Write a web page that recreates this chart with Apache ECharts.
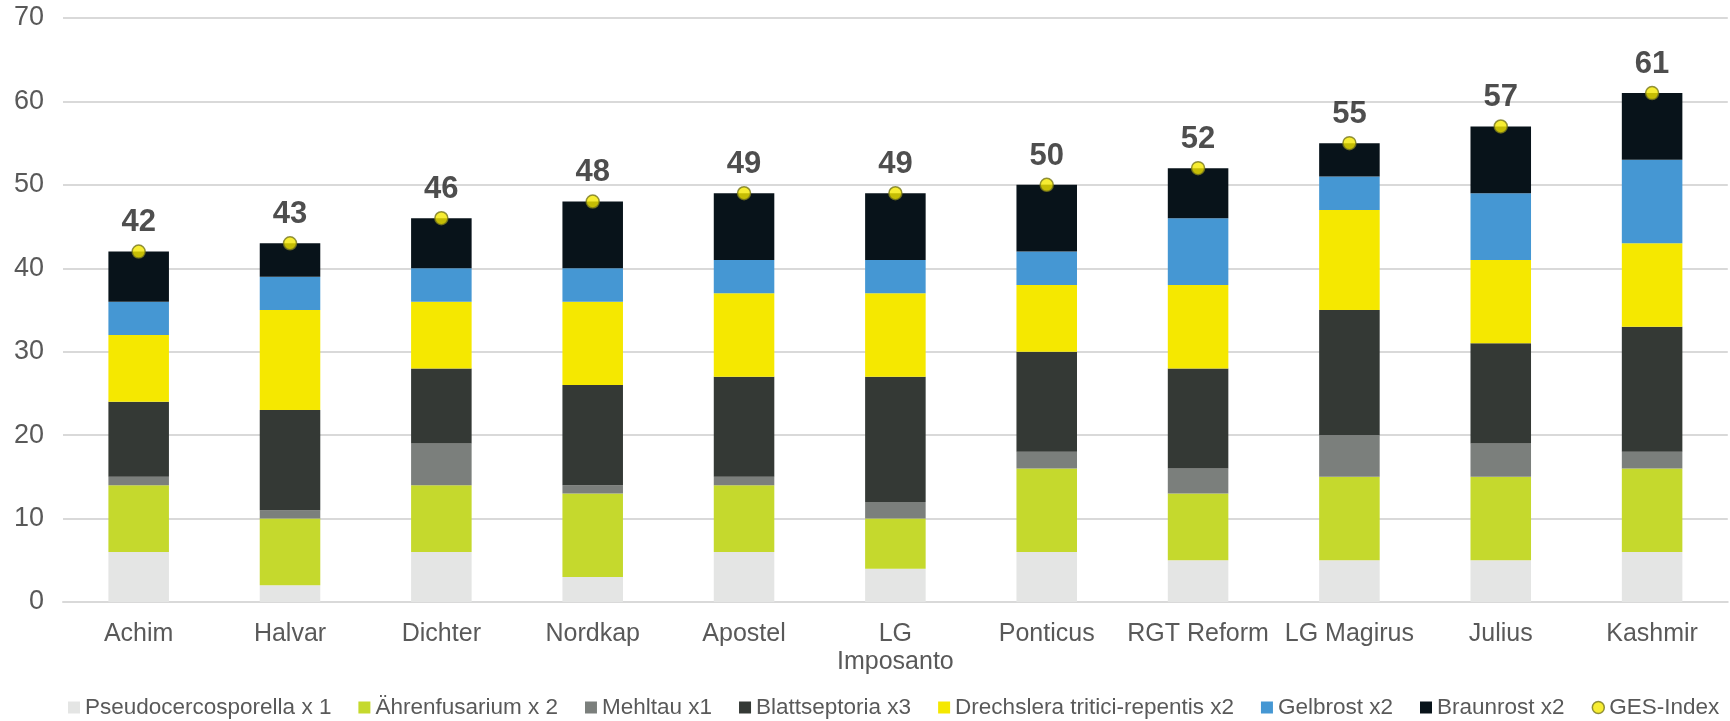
<!DOCTYPE html>
<html>
<head>
<meta charset="utf-8">
<script src="https://cdn.jsdelivr.net/npm/echarts@6/dist/echarts.min.js"></script>
<style>
html,body{margin:0;padding:0;background:#fff;}
#c{width:1730px;height:721px;}
</style>
</head>
<body>
<div id="c"></div>
<script>
const categories = ['Achim','Halvar','Dichter','Nordkap','Apostel','LG Imposanto','Ponticus','RGT Reform','LG Magirus','Julius','Kashmir'];
const pseudocercosporella = [6,2,6,3,6,4,6,5,5,5,6];
const aehrenfusarium     = [8,8,8,10,8,6,10,8,10,10,10];
const mehltau            = [1,1,5,1,1,2,2,3,5,4,2];
const blattseptoria      = [9,12,9,12,12,15,12,12,15,12,15];
const drechslera         = [8,12,8,10,10,10,8,10,12,10,10];
const gelbrost           = [4,4,4,4,4,4,4,8,4,8,10];
const braunrost          = [6,4,6,8,8,8,8,6,4,8,8];
const gesIndex           = [42,43,46,48,49,49,50,52,55,57,61];
const yTicks = [0,10,20,30,40,50,60,70];

const font = 'Liberation Sans, Arial, sans-serif';
const barNames = ['Pseudocercosporella x 1','Ährenfusarium x 2','Mehltau x1','Blattseptoria x3','Drechslera tritici-repentis x2','Gelbrost x2','Braunrost x2'];
const barData = [pseudocercosporella, aehrenfusarium, mehltau, blattseptoria, drechslera, gelbrost, braunrost];
const barColors = ['#e4e5e4','#c5d92d','#7b7f7c','#343935','#f5e800','#4597d3','#08131a'];

const series = barNames.map((n,i)=>({
  name:n, type:'bar', stack:'s', data:barData[i], barWidth:'40%',
  itemStyle:{color:barColors[i]}, emphasis:{disabled:true}
}));
series.push({
  name:'GES-Index', type:'scatter', data:gesIndex, symbol:'circle', symbolSize:13,
  itemStyle:{color:'#f5e800', borderColor:'#75761c', borderWidth:1.5},
  label:{show:true, position:'top', distance:6, fontFamily:font, fontSize:31, fontWeight:'bold', color:'#222222'},
  z:10
});

const chart = echarts.init(document.getElementById('c'), null, {renderer:'canvas'});
chart.setOption({
  animation:false,
  backgroundColor:'#ffffff',
  grid:{left:63, right:0, top:18, bottom:119, containLabel:false},
  legend:{
    bottom:0, left:63, itemWidth:12, itemHeight:12, itemGap:27, padding:[2,5,2,5],
    textStyle:{fontFamily:font, fontSize:22.5, color:'#595959'},
    data:barNames.map(n=>({name:n, icon:'rect'})).concat([{name:'GES-Index', icon:'circle', itemStyle:{color:'#f5e800', borderColor:'#75761c', borderWidth:1.5}}])
  },
  xAxis:{
    type:'category', data:categories,
    axisLine:{lineStyle:{color:'#d9d9d9', width:2}},
    axisTick:{show:false},
    axisLabel:{fontFamily:font, fontSize:25, color:'#595959', margin:18, interval:0, width:150, overflow:'break', lineHeight:28,
      formatter:v=>v==='LG Imposanto'?'LG\nImposanto':v}
  },
  yAxis:{
    type:'value', min:yTicks[0], max:yTicks[yTicks.length-1], interval:10,
    axisLine:{show:false}, axisTick:{show:false},
    axisLabel:{fontFamily:font, fontSize:27, color:'#595959', margin:19},
    splitLine:{lineStyle:{color:'#d9d9d9', width:2}}
  },
  series:series
});
</script>
</body>
</html>
